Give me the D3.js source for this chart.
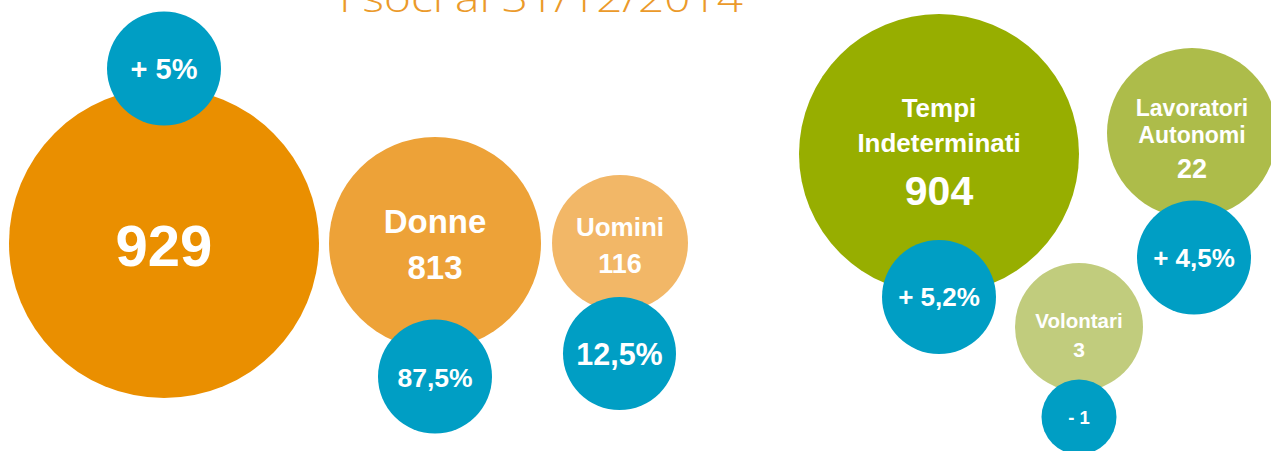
<!DOCTYPE html>
<html>
<head>
<meta charset="utf-8">
<script src="https://cdn.jsdelivr.net/npm/d3@7"></script>
<style>
  html, body { margin: 0; padding: 0; background: #fff; overflow: hidden; }
  svg { display: block; }
  text { font-family: "Liberation Sans", Arial, Helvetica, sans-serif; font-weight: 700; fill: #fff; }
</style>
</head>
<body>
<div id="chart"></div>
<script>
// data
const title_text = "I soci al 31/12/2014";

const soci_labels = [[], ["Donne"], ["Uomini"]];
const soci_values = [929, 813, 116];
const soci_badges = ["+ 5%", "87,5%", "12,5%"];

const contratti_labels = [["Tempi", "Indeterminati"], ["Lavoratori", "Autonomi"], ["Volontari"]];
const contratti_values = [904, 22, 3];
const contratti_badges = ["+ 5,2%", "+ 4,5%", "- 1"];

// layout of the infographic (bubble sizes are not proportional in the original)
const width = 1271, height = 451;
const badge_color = "#009ec4";

const soci_layout = [
  { cx: 164, cy: 243, r: 155, color: "#ea8f00", label_size: 33, label_y: [], value_size: 58, value_y: 23,
    pos: { cx: 164, cy: 68.5, r: 57, size: 29, dy: 10.5 } },
  { cx: 435, cy: 243, r: 106, color: "#eda238", label_size: 33, label_y: [-10], value_size: 33, value_y: 36,
    pos: { cx: 435, cy: 376.5, r: 57, size: 26.5, dy: 10 } },
  { cx: 620, cy: 243, r: 68, color: "#f2b767", label_size: 26, label_y: [-7], value_size: 27, value_y: 30,
    pos: { cx: 619.5, cy: 353.5, r: 56.5, size: 30.5, dy: 11.5 } },
];

const contratti_layout = [
  { cx: 939, cy: 154, r: 140, color: "#97ae00", label_size: 26, label_y: [-37, -2.5], value_size: 41, value_y: 51,
    pos: { cx: 939, cy: 297, r: 57, size: 26, dy: 8.5 } },
  { cx: 1192, cy: 133, r: 85, color: "#adbc4a", label_size: 23, label_y: [-17.5, 10], value_size: 27, value_y: 44.5,
    pos: { cx: 1194, cy: 257.5, r: 57, size: 26, dy: 9 } },
  { cx: 1079, cy: 327, r: 64, color: "#c1cc7d", label_size: 20.5, label_y: [0.5], value_size: 21, value_y: 30,
    pos: { cx: 1079, cy: 417, r: 37.5, size: 18.5, dy: 6.5 } },
];

const svg = d3.select("#chart")
  .append("svg")
  .attr("width", width)
  .attr("height", height);

// title, mostly cut off at the top edge as in the original
svg.append("text")
  .attr("x", 541)
  .attr("y", 12)
  .attr("text-anchor", "middle")
  .attr("textLength", 404)
  .attr("lengthAdjust", "spacingAndGlyphs")
  .style("font-family", "'Open Sans', 'Liberation Sans', sans-serif")
  .style("font-weight", 300)
  .style("font-size", "39px")
  .style("fill", "#eb9a2a")
  .text(title_text);

const fmt = d3.format("d");

function draw_bubbles(g, labels, values, badges, layout) {
  const items = values.map((v, i) => ({ value: v, label: labels[i], change: badges[i], ...layout[i] }));

  g.selectAll("g.bubble")
    .data(items)
    .enter()
    .append("g")
    .classed("bubble", true)
    .each(function (d) {
      const b = d3.select(this);

      b.append("circle")
        .attr("cx", d.cx)
        .attr("cy", d.cy)
        .attr("r", d.r)
        .attr("fill", d.color);

      d.label.forEach((line, j) => {
        b.append("text")
          .attr("x", d.cx)
          .attr("y", d.cy + d.label_y[j])
          .attr("text-anchor", "middle")
          .style("font-size", d.label_size + "px")
          .text(line);
      });

      b.append("text")
        .attr("x", d.cx)
        .attr("y", d.cy + d.value_y)
        .attr("text-anchor", "middle")
        .style("font-size", d.value_size + "px")
        .text(fmt(d.value));

      // blue change badge on top
      b.append("circle")
        .attr("cx", d.pos.cx)
        .attr("cy", d.pos.cy)
        .attr("r", d.pos.r)
        .attr("fill", badge_color);

      b.append("text")
        .attr("x", d.pos.cx)
        .attr("y", d.pos.cy + d.pos.dy)
        .attr("text-anchor", "middle")
        .style("font-size", d.pos.size + "px")
        .text(d.change);
    });
}

svg.append("g").call(draw_bubbles, soci_labels, soci_values, soci_badges, soci_layout);
svg.append("g").call(draw_bubbles, contratti_labels, contratti_values, contratti_badges, contratti_layout);
</script>
</body>
</html>
